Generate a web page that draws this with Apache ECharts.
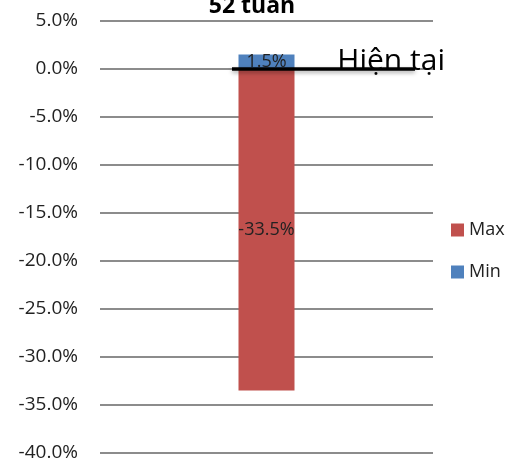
<!DOCTYPE html>
<html><head><meta charset="utf-8">
<script src="https://cdn.jsdelivr.net/npm/echarts@6/dist/echarts.min.js"></script>
<style>html,body{margin:0;padding:0;background:#fff}#c{width:524px;height:465px}</style>
</head><body><div id="c"></div>
<script>
const categories = ['52 tuần'];
const maxValues = [-33.5];
const minValues = [1.5];
const currentValue = 0;
const currentLabel = 'Hiện tại';
const yTicks = [-40, -35, -30, -25, -20, -15, -10, -5, 0, 5];

const FONT = '"Open Sans", "Noto Sans", sans-serif';
const chart = echarts.init(document.getElementById('c'));
chart.setOption({
  animation: false,
  title: {
    text: '52 tuần', left: 247, textAlign: 'center', top: -10,
    textStyle: {fontFamily: FONT, fontWeight: 'bold', fontSize: 23, color: '#000'}
  },
  legend: {
    orient: 'vertical', left: 446, top: 216, itemGap: 24,
    itemWidth: 13, itemHeight: 13, icon: 'rect',
    textStyle: {fontFamily: FONT, fontSize: 18, color: '#222'},
    data: ['Max', 'Min']
  },
  grid: {left: 100, right: 91, top: 21, bottom: 12, containLabel: false},
  xAxis: {
    type: 'category', data: categories,
    axisLine: {show: false}, axisTick: {show: false}, axisLabel: {show: false}
  },
  yAxis: {
    type: 'value', min: yTicks[0], max: yTicks[yTicks.length - 1], interval: 5,
    axisLine: {show: false}, axisTick: {show: false},
    axisLabel: {fontFamily: FONT, fontSize: 19, color: '#222', margin: 22,
      formatter: v => v.toFixed(1) + '%'},
    splitLine: {lineStyle: {color: '#8c8c8c', width: 2}}
  },
  series: [
    {
      name: 'Max', type: 'bar', stack: 's', data: maxValues, barWidth: 56,
      itemStyle: {color: '#C0504D'},
      label: {show: true, position: 'inside', fontFamily: FONT, fontSize: 18, color: '#222',
        formatter: p => p.value.toFixed(1) + '%'},
      markLine: {
        symbol: 'none', silent: true,
        lineStyle: {color: '#000', width: 3.5, type: 'solid',
          shadowColor: 'rgba(0,0,0,0.35)', shadowBlur: 4, shadowOffsetY: 2},
        label: {show: true, position: 'insideEndTop', formatter: currentLabel,
          fontFamily: FONT, fontSize: 30, color: '#000', offset: [35, 12]},
        data: [[{x: 232, yAxis: currentValue}, {x: 415, yAxis: currentValue}]]
      }
    },
    {
      name: 'Min', type: 'bar', stack: 's', data: minValues, barWidth: 56,
      itemStyle: {color: '#4F81BD'},
      label: {show: true, position: 'inside', fontFamily: FONT, fontSize: 18, color: '#222',
        formatter: p => p.value.toFixed(1) + '%'}
    }
  ]
});
</script></body></html>
